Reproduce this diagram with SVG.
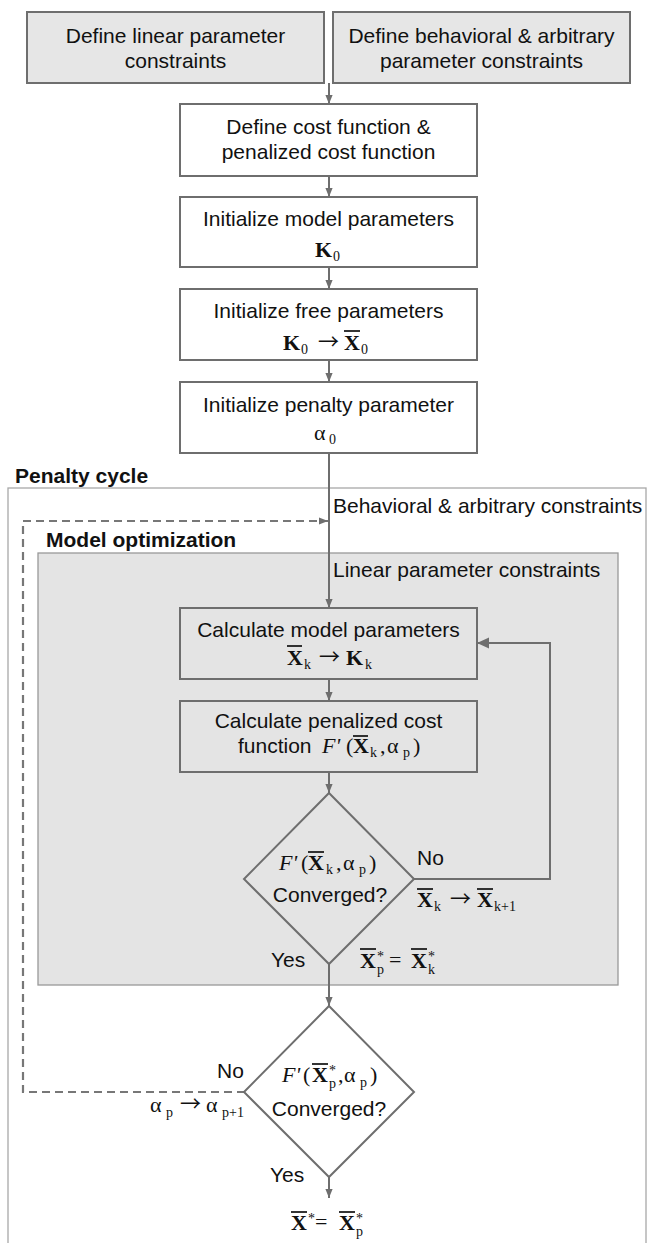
<svg xmlns="http://www.w3.org/2000/svg" width="647" height="1243" viewBox="0 0 647 1243">
<defs>
<style>
.t{font-family:"Liberation Sans",Arial,sans-serif;font-size:21px;fill:#111}
.c{text-anchor:middle}
.b{font-family:"Liberation Sans",Arial,sans-serif;font-size:21px;font-weight:bold;fill:#111}
.m{font-family:"Liberation Serif","Times New Roman",serif;font-size:22px;fill:#111}
.mb{font-weight:bold}
.mi{font-style:italic}
.ms{font-size:14px;font-weight:normal}
.ma{font-family:"Noto Sans CJK SC","DejaVu Sans",sans-serif;font-size:21px;font-weight:normal}
.bar{stroke:#111;stroke-width:1.7;fill:none}
.box{fill:#fff;stroke:#6e6e6e;stroke-width:2}
.gbox{fill:#e6e6e6;stroke:#6e6e6e;stroke-width:2}
.flow{stroke:#6e6e6e;stroke-width:2;fill:none}
.dash{stroke:#777;stroke-width:2.2;fill:none;stroke-dasharray:8 5}
</style>
<marker id="ah" viewBox="0 0 10 10" refX="10" refY="5" markerUnits="userSpaceOnUse" markerWidth="9" markerHeight="9" orient="auto"><path d="M0,1 L10,5 L0,9 z" fill="#6e6e6e"/></marker>
<marker id="ahl" viewBox="0 0 10 10" refX="10" refY="5" markerUnits="userSpaceOnUse" markerWidth="13" markerHeight="12" orient="auto"><path d="M0,0.5 L10,5 L0,9.5 z" fill="#6e6e6e"/></marker>
</defs>

<g id="penalty-cycle">
<rect x="8" y="488" width="638" height="770" fill="none" stroke="#a8a8a8" stroke-width="1.3"/>
<text class="b" x="15" y="483">Penalty cycle</text>
<text class="t" x="333" y="513">Behavioral &amp; arbitrary constraints</text>
</g>
<g id="model-optimization">
<rect x="38" y="553" width="580" height="432" fill="#e4e4e4" stroke="#999" stroke-width="1.3"/>
<text class="b" x="46" y="547">Model optimization</text>
<text class="t" x="333" y="577">Linear parameter constraints</text>
</g>

<g id="connectors">
<path class="flow" d="M329 83 V104" marker-end="url(#ah)"/>
<path class="flow" d="M329 176 V197" marker-end="url(#ah)"/>
<path class="flow" d="M329 267 V289" marker-end="url(#ah)"/>
<path class="flow" d="M329 360 V382" marker-end="url(#ah)"/>
<path class="flow" d="M329 453 V608" marker-end="url(#ah)"/>
<path class="flow" d="M329 679 V701" marker-end="url(#ah)"/>
<path class="flow" d="M329 772 V793" marker-end="url(#ah)"/>
<path class="flow" d="M329 964 V1006" marker-end="url(#ah)"/>
<path class="flow" d="M329 1177 V1198" marker-end="url(#ah)"/>
<path class="flow" stroke-width="2.5" d="M414 879 H550 V643 H477" marker-end="url(#ahl)"/>
<path class="dash" d="M245 1092 H23 V521 H328" marker-end="url(#ah)"/>
</g>

<g id="n-linear">
<rect class="gbox" x="27" y="12" width="297" height="71"/>
<text class="t c" x="175.5" y="43">Define linear parameter</text>
<text class="t c" x="175.5" y="68">constraints</text>
</g>
<g id="n-behavioral">
<rect class="gbox" x="333" y="12" width="297" height="71"/>
<text class="t c" x="481.5" y="43">Define behavioral &amp; arbitrary</text>
<text class="t c" x="481.5" y="68">parameter constraints</text>
</g>
<g id="n-cost">
<rect class="box" x="180" y="104" width="297" height="72"/>
<text class="t c" x="328.5" y="134">Define cost function &amp;</text>
<text class="t c" x="328.5" y="159">penalized cost function</text>
</g>
<g id="n-init-model">
<rect class="box" x="180" y="197" width="297" height="70"/>
<text class="t c" x="328.5" y="226">Initialize model parameters</text>
<text class="m"><tspan class="mb" x="315" y="257">K</tspan><tspan class="ms" x="333" y="261">0</tspan></text>
</g>
<g id="n-init-free">
<rect class="box" x="180" y="289" width="297" height="71"/>
<text class="t c" x="328.5" y="318">Initialize free parameters</text>
<text class="m"><tspan class="mb" x="283" y="350">K</tspan><tspan class="ms" x="301" y="354">0</tspan><tspan class="ma" x="318" y="349">→</tspan><tspan class="mb" x="344" y="350">X</tspan><tspan class="ms" x="361" y="354">0</tspan></text>
<line class="bar" x1="344" y1="331" x2="360" y2="331"/>
</g>
<g id="n-init-penalty">
<rect class="box" x="180" y="382" width="297" height="71"/>
<text class="t c" x="328.5" y="412">Initialize penalty parameter</text>
<text class="m"><tspan x="314" y="440">α</tspan><tspan class="ms" x="329" y="444">0</tspan></text>
</g>
<g id="n-calc-model">
<rect class="box" x="180" y="608" width="297" height="71" style="fill:#e4e4e4"/>
<text class="t c" x="328.5" y="637">Calculate model parameters</text>
<text class="m"><tspan class="mb" x="287" y="665">X</tspan><tspan class="ms" x="304" y="669">k</tspan><tspan class="ma" x="319" y="664">→</tspan><tspan class="mb" x="346" y="665">K</tspan><tspan class="ms" x="365" y="669">k</tspan></text>
<line class="bar" x1="287" y1="646" x2="302" y2="646"/>
</g>
<g id="n-calc-cost">
<rect class="box" x="180" y="701" width="297" height="71" style="fill:#e4e4e4"/>
<text class="t c" x="328.5" y="728">Calculate penalized cost</text>
<text class="t" x="238" y="753">function</text>
<text class="m"><tspan class="mi" x="322" y="753">F'</tspan><tspan x="346" y="753">(</tspan><tspan class="mb" x="353" y="753">X</tspan><tspan class="ms" x="370" y="757">k</tspan><tspan x="380" y="753">,</tspan><tspan x="387" y="753">α</tspan><tspan class="ms" x="403" y="757">p</tspan><tspan x="413" y="753">)</tspan></text>
<line class="bar" x1="353" y1="736" x2="368" y2="736"/>
</g>
<g id="n-conv-inner">
<polygon points="329,793 414,879 329,964 244,879" fill="#e4e4e4" stroke="#6e6e6e" stroke-width="2"/>
<text class="m"><tspan class="mi" x="279" y="870">F'</tspan><tspan x="301" y="870">(</tspan><tspan class="mb" x="308" y="870">X</tspan><tspan class="ms" x="326" y="874">k</tspan><tspan x="336" y="870">,</tspan><tspan x="343" y="870">α</tspan><tspan class="ms" x="359" y="874">p</tspan><tspan x="369" y="870">)</tspan></text>
<line class="bar" x1="308" y1="852" x2="324" y2="852"/>
<text class="t c" x="330" y="902">Converged?</text>
<text class="t" x="417" y="865">No</text>
<text class="m"><tspan class="mb" x="417" y="907">X</tspan><tspan class="ms" x="434" y="911">k</tspan><tspan class="ma" x="450" y="906">→</tspan><tspan class="mb" x="477" y="907">X</tspan><tspan class="ms" x="494" y="911">k+1</tspan></text>
<line class="bar" x1="417" y1="889" x2="433" y2="889"/>
<line class="bar" x1="477" y1="889" x2="493" y2="889"/>
<text class="t" x="271" y="967">Yes</text>
<text class="m"><tspan class="mb" x="360" y="968">X</tspan><tspan class="ms" x="377" y="961">*</tspan><tspan class="ms" x="377" y="974">p</tspan><tspan x="389" y="967">=</tspan><tspan class="mb" x="411" y="968">X</tspan><tspan class="ms" x="428" y="961">*</tspan><tspan class="ms" x="428" y="974">k</tspan></text>
<line class="bar" x1="360" y1="949" x2="376" y2="949"/>
<line class="bar" x1="411" y1="949" x2="427" y2="949"/>
</g>
<g id="n-conv-outer">
<polygon points="329,1006 414,1092 329,1177 244,1092" fill="#fff" stroke="#6e6e6e" stroke-width="2"/>
<text class="m"><tspan class="mi" x="282" y="1082">F'</tspan><tspan x="303" y="1082">(</tspan><tspan class="mb" x="312" y="1082">X</tspan><tspan class="ms" x="329" y="1075">*</tspan><tspan class="ms" x="329" y="1088">p</tspan><tspan x="338" y="1082">,</tspan><tspan x="344" y="1082">α</tspan><tspan class="ms" x="360" y="1087">p</tspan><tspan x="370" y="1082">)</tspan></text>
<line class="bar" x1="312" y1="1064" x2="328" y2="1064"/>
<text class="t c" x="329" y="1116">Converged?</text>
<text class="t" x="217" y="1078">No</text>
<text class="m"><tspan x="150" y="1112">α</tspan><tspan class="ms" x="166" y="1117">p</tspan><tspan class="ma" x="180" y="1111">→</tspan><tspan x="206" y="1112">α</tspan><tspan class="ms" x="222" y="1117">p+1</tspan></text>
<text class="t" x="270" y="1182">Yes</text>
</g>
<g id="n-result">
<text class="m"><tspan class="mb" x="291" y="1230">X</tspan><tspan class="ms" x="308" y="1223">*</tspan><tspan x="315" y="1229">=</tspan><tspan class="mb" x="339" y="1230">X</tspan><tspan class="ms" x="356" y="1223">*</tspan><tspan class="ms" x="356" y="1236">p</tspan></text>
<line class="bar" x1="291" y1="1212" x2="307" y2="1212"/>
<line class="bar" x1="339" y1="1212" x2="355" y2="1212"/>
</g>
</svg>
